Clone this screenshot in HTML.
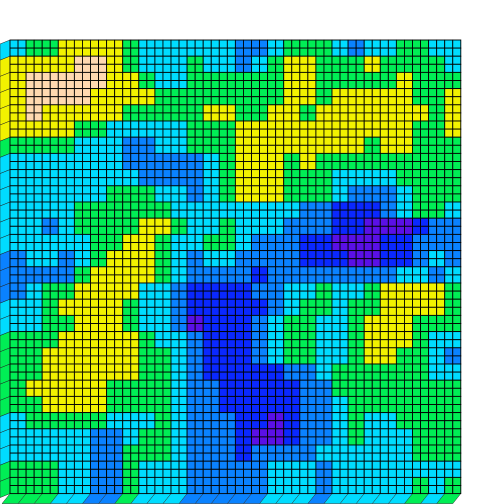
<!DOCTYPE html>
<html><head><meta charset="utf-8"><style>
html,body{margin:0;padding:0;background:#fff;}
svg{display:block;}
</style></head><body>
<svg id="chart" width="504" height="504" viewBox="0 0 504 504" xmlns="http://www.w3.org/2000/svg">
<g id="side"></g>
<g id="cells"></g>
</svg>
<script>
// level values per cell (0 = lowest, 6 = highest), rows top->bottom
const rowData = [
"3445555433333322344432334433",
"5555665433343323455444544443",
"5666665543344444455444445444",
"5666655554444444455455555445",
"5655555444445544554555555545",
"5555443333344455555555555445",
"4444333223344455555555455444",
"3333333222223455545444444444",
"3333333322223455544433334444",
"3333334443323455544432223444",
"3333444444333333332211123443",
"3323444455433433322211000122",
"3333344554334432221100011222",
"2332345554323322221110011232",
"2222455554322221222222223323",
"2344555533211112233433455554",
"3345555433211111234434455554",
"3344555433201112344334555444",
"4445555543321112344334555433",
"4455555544321112344334554432",
"4455555544321111122344444433",
"4555554444322111112244444444",
"4455554444322111112234444444",
"3444443334322211012234334444",
"3333322344322210012234333444",
"3333322444322212222333333444",
"4443322433322222333233333333",
"4443322433322222333233333434"
];
const levelColors = ["#5a10e6","#0a28ff","#0a82ff","#00dcff","#00ee55","#f2f200","#ffd9b0"];
const sideColors = ["#3a0a9a","#0618aa","#0558aa","#0094aa","#00a03a","#a4a400","#aa9070"];

const x0 = 10, y0 = 40, cellW = 16.1, cellH = 16.2;
function xScale(c){ return x0 + c*cellW; }
function yScale(r){ return y0 + r*cellH; }
function levelAt(r,c){ return parseInt(rowData[r][c],10); }

const NS = "http://www.w3.org/2000/svg";
const cellsG = document.getElementById('cells');
const sideG = document.getElementById('side');
const nRows = rowData.length, nCols = rowData[0].length;

for (let r=0; r<nRows; r++){
  for (let c=0; c<nCols; c++){
    const v = levelAt(r,c);
    for (let sr=0; sr<2; sr++){
      for (let sc=0; sc<2; sc++){
        const rect = document.createElementNS(NS,'rect');
        rect.setAttribute('x', xScale(c) + sc*cellW/2);
        rect.setAttribute('y', yScale(r) + sr*cellH/2);
        rect.setAttribute('width', cellW/2);
        rect.setAttribute('height', cellH/2);
        rect.setAttribute('fill', levelColors[v]);
        rect.setAttribute('stroke', '#000');
        rect.setAttribute('stroke-width', '0.9');
        
        
        cellsG.appendChild(rect);
      }
    }
  }
}
// left side faces
for (let r=0; r<nRows; r++){
  const v = levelAt(r,0);
  const p = document.createElementNS(NS,'polygon');
  const yt = yScale(r), yb = yScale(r+1);
  p.setAttribute('points', `0,${yt+4} ${x0},${yt} ${x0},${yb} 0,${yb+4}`);
  p.setAttribute('fill', levelColors[v]);
  p.setAttribute('stroke', '#222');
  p.setAttribute('stroke-width', '0.5');
  
  
  sideG.appendChild(p);
}
// bottom side faces
for (let c=0; c<nCols; c++){
  const v = levelAt(nRows-1,c);
  const p = document.createElementNS(NS,'polygon');
  const xl = xScale(c), xr = xScale(c+1), yb = yScale(nRows);
  p.setAttribute('points', `${xl},${yb} ${xr},${yb} ${xr-8},${yb+10} ${xl-8},${yb+10}`);
  p.setAttribute('fill', levelColors[v]);
  p.setAttribute('stroke', '#333');
  p.setAttribute('stroke-width', '0.5');
  
  
  sideG.appendChild(p);
}
</script>
</body></html>
